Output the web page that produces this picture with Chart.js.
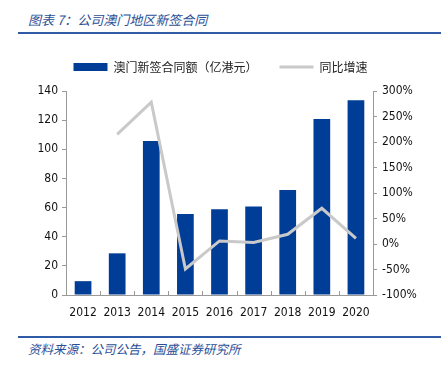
<!DOCTYPE html>
<html><head><meta charset="utf-8">
<script src="https://cdn.jsdelivr.net/npm/chart.js@4/dist/chart.umd.min.js"></script>
<style>
html,body{margin:0;padding:0;background:#fff;width:441px;height:369px;overflow:hidden;}
#wrap{position:absolute;left:0;top:0;width:441px;height:369px;}
.title{position:absolute;left:28px;top:10px;font:italic 13px "Noto Sans CJK SC";color:#2b4f96;white-space:nowrap;}
.rule{position:absolute;left:18px;width:423px;height:2px;background:#2f5aa6;}
.foot{position:absolute;left:28px;top:339px;font:italic 12.5px "Noto Sans CJK SC";color:#2b4f96;white-space:nowrap;}
</style></head>
<body>
<div class="title">图表 7：公司澳门地区新签合同</div>
<div class="rule" style="top:32px"></div>
<div class="rule" style="top:336px"></div>
<div class="foot">资料来源：公司公告，国盛证券研究所</div>
<div id="wrap"><canvas id="c" width="441" height="369"></canvas></div>
<script>
const categories = ['2012','2013','2014','2015','2016','2017','2018','2019','2020'];
const contractValues = [9.5, 28.6, 105.7, 55.6, 58.8, 60.8, 72.0, 120.8, 133.6];
const growthPct = [null, 215, 278, -49, 6, 3, 19, 70, 11];
const leftTicks = [0,20,40,60,80,100,120,140];
const rightTicks = [-100,-50,0,50,100,150,200,250,300];

const tickFont = {family:'"DejaVu Sans Condensed","DejaVu Sans"', size:12};
const upTicks = {
  id:'upTicks',
  afterDatasetsDraw(chart){
    const x = chart.scales.x, ctx = chart.ctx;
    ctx.save(); ctx.strokeStyle='#999'; ctx.lineWidth=1;
    for(let i=1;i<categories.length;i++){
      const p = Math.round((x.getPixelForTick(i-1)+x.getPixelForTick(i))/2)+0.5;
      ctx.beginPath(); ctx.moveTo(p, x.top); ctx.lineTo(p, x.top-4); ctx.stroke();
    }
    ctx.restore();
  }
};
const chart = new Chart(document.getElementById('c'), {
  data:{
    labels: categories,
    datasets:[
      {type:'bar', label:'澳门新签合同额（亿港元）', data: contractValues, backgroundColor:'#003D96', borderWidth:0, yAxisID:'y', barPercentage:0.49, categoryPercentage:1, order:2},
      {type:'line', label:'同比增速', data: growthPct, borderColor:'#c9c9c9', backgroundColor:'#c9c9c9', borderWidth:3, pointRadius:0, tension:0, yAxisID:'y1', order:1, spanGaps:false}
    ]
  },
  options:{
    responsive:false, animation:false,
    layout:{padding:{top:39,bottom:44,left:0,right:0}},
    plugins:{
      tooltip:{enabled:false},
      legend:{position:'top', labels:{
        font:{family:'"Noto Sans CJK SC"', size:12}, color:'#222',
        usePointStyle:true, pointStyleWidth:34, boxHeight:8, padding:22,
        sort:(a,b)=>a.datasetIndex-b.datasetIndex,
        generateLabels(chart){
          const items = Chart.defaults.plugins.legend.labels.generateLabels(chart);
          items.forEach(it=>{
            if(it.datasetIndex===0){ it.pointStyle='rect'; it.lineWidth=0; it.fillStyle='#003D96'; }
            else { it.pointStyle='line'; it.lineWidth=3; it.strokeStyle='#c9c9c9'; }
          });
          return items;
        }
      }}
    },
    scales:{
      x:{
        grid:{display:false, offset:true},
        border:{color:'#999'},
        ticks:{font:tickFont, color:'#111', padding:3, maxRotation:0},
        afterFit(s){ s.height = 30; }
      },
      y:{
        position:'left', min:0, max:140,
        afterBuildTicks(s){ s.ticks = leftTicks.map(v=>({value:v})); },
        grid:{drawOnChartArea:false, tickLength:4, color:'#999'},
        border:{color:'#999'},
        ticks:{font:tickFont, color:'#111', padding:4},
        afterFit(s){ s.width = 66; }
      },
      y1:{
        position:'right', min:-100, max:300,
        afterBuildTicks(s){ s.ticks = rightTicks.map(v=>({value:v})); },
        grid:{drawOnChartArea:false, tickLength:4, color:'#999'},
        border:{color:'#999'},
        ticks:{font:tickFont, color:'#111', padding:5, callback:v=>v+'%'},
        afterFit(s){ s.width = 68; }
      }
    }
  },
  plugins:[upTicks]
});
const origFit = chart.legend.fit;
chart.legend.fit = function(){ origFit.call(this); this.height += 8; };
chart.update();
</script>
</body></html>
